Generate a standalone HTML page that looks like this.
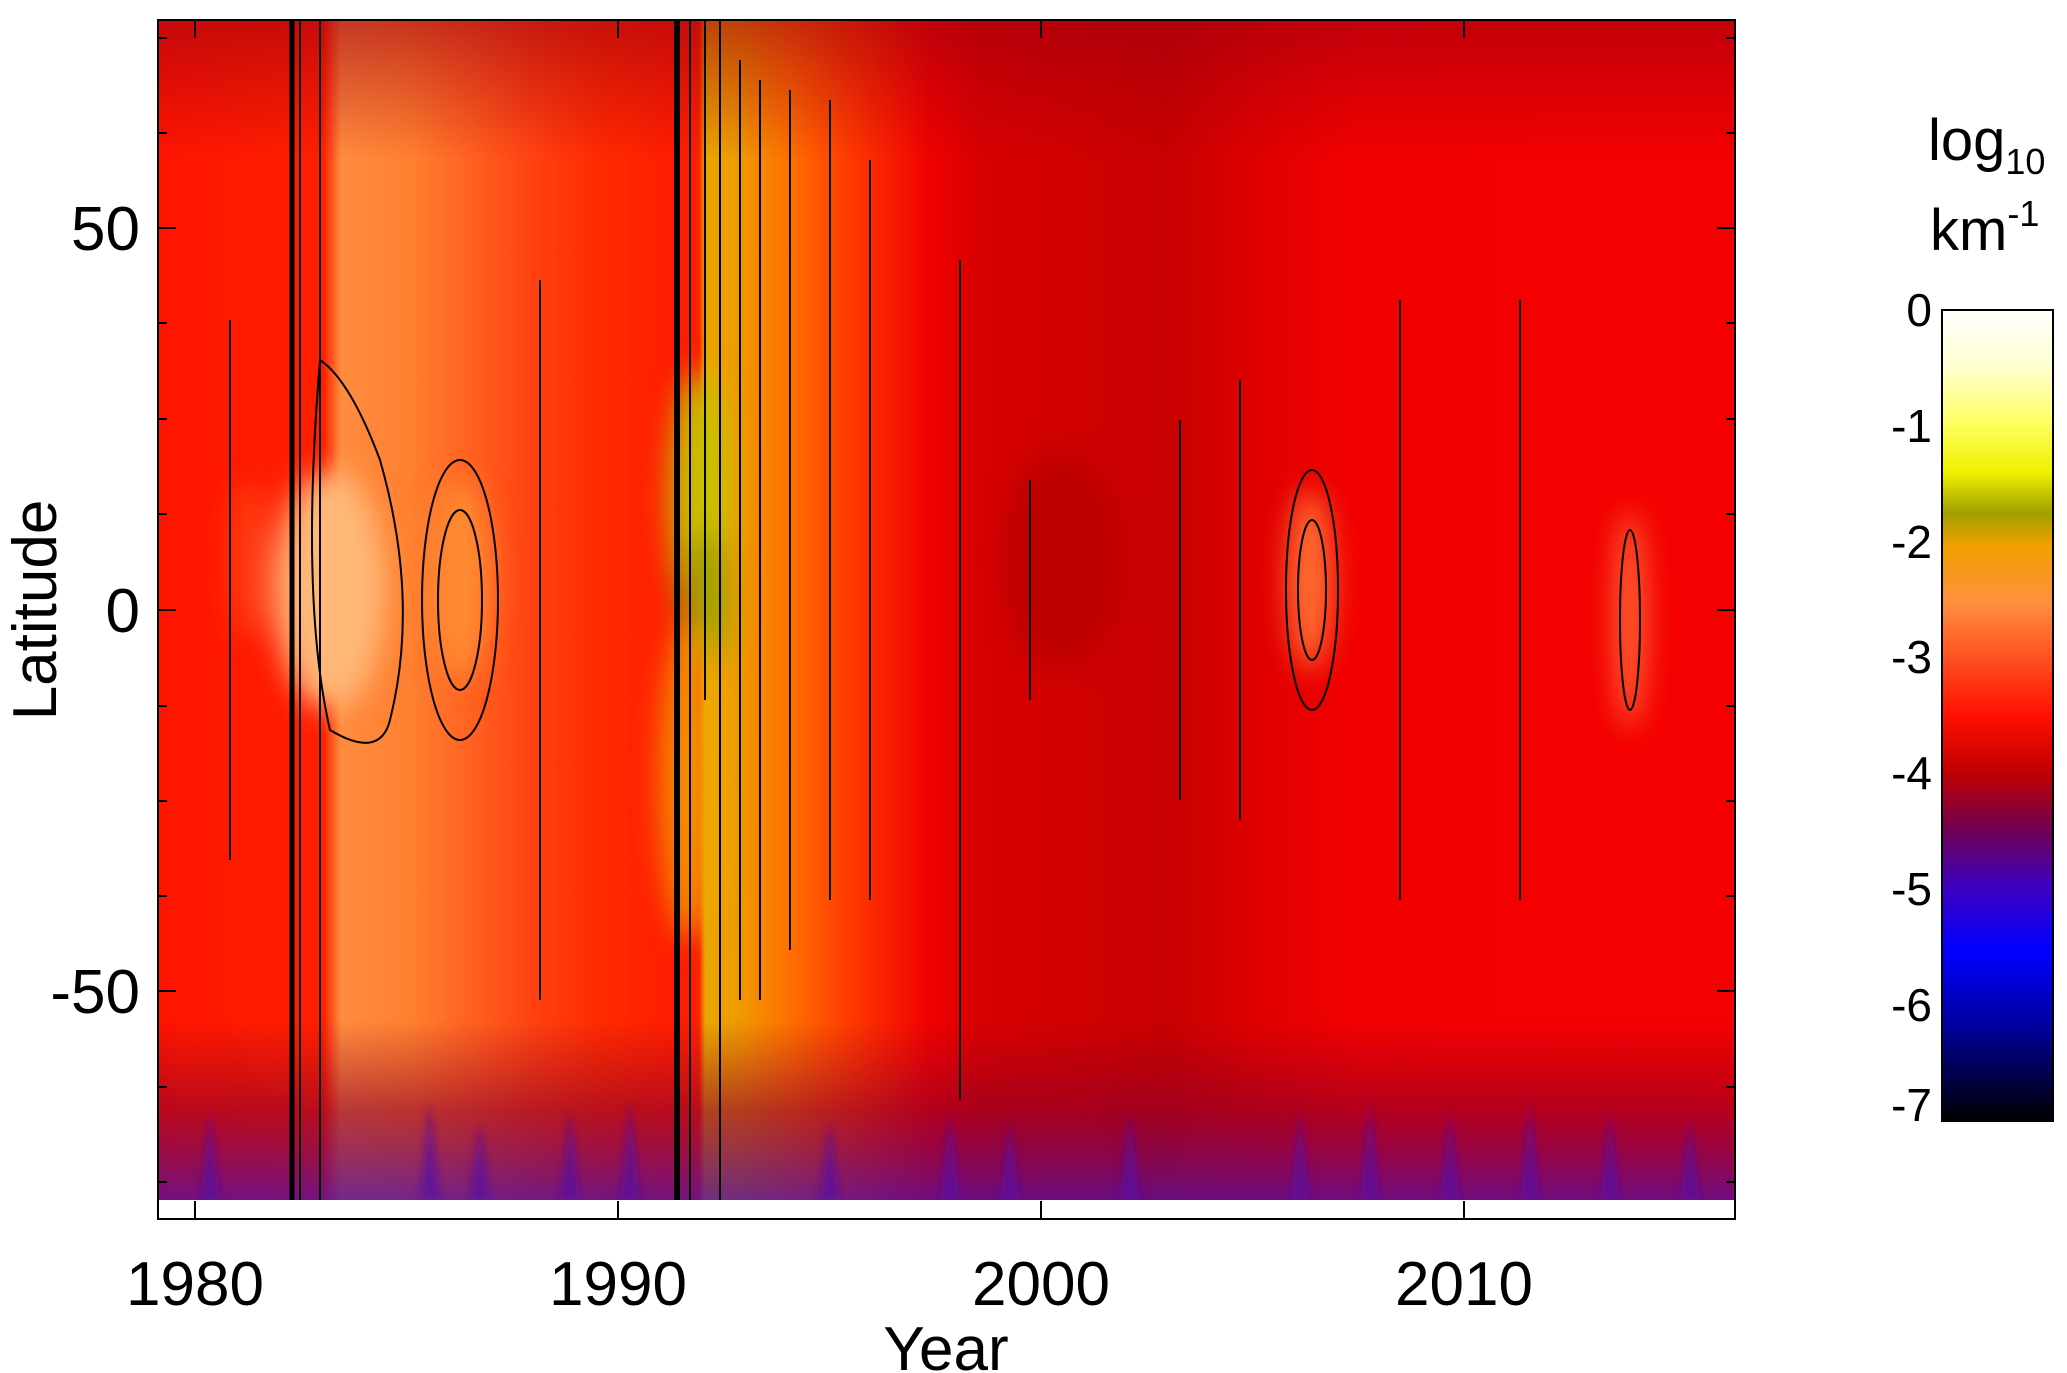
<!DOCTYPE html>
<html><head><meta charset="utf-8"><style>
html,body{margin:0;padding:0;background:#fff;width:2067px;height:1373px;overflow:hidden}
svg{display:block;font-family:"Liberation Sans",Arial,sans-serif}
</style></head><body>
<svg width="2067" height="1373" viewBox="0 0 2067 1373">
<defs>
<linearGradient id="base" x1="158" y1="0" x2="1735" y2="0" gradientUnits="userSpaceOnUse">
<stop offset="0" stop-color="#ff1400"/>
<stop offset="0.105" stop-color="#ff2000"/>
<stop offset="0.116" stop-color="#ff8c40"/>
<stop offset="0.16" stop-color="#ff8030"/>
<stop offset="0.2" stop-color="#ff6020"/>
<stop offset="0.24" stop-color="#ff4010"/>
<stop offset="0.28" stop-color="#ff2a00"/>
<stop offset="0.33" stop-color="#ff1c00"/>
<stop offset="0.343" stop-color="#ff2000"/>
<stop offset="0.347" stop-color="#e8a800"/>
<stop offset="0.37" stop-color="#f09800"/>
<stop offset="0.40" stop-color="#ff7000"/>
<stop offset="0.44" stop-color="#ff3800"/>
<stop offset="0.49" stop-color="#f00000"/>
<stop offset="0.52" stop-color="#d80000"/>
<stop offset="0.64" stop-color="#c80000"/>
<stop offset="0.70" stop-color="#e00000"/>
<stop offset="0.76" stop-color="#f20000"/>
<stop offset="1" stop-color="#f40000"/>
</linearGradient>
<linearGradient id="topd" x1="0" y1="20" x2="0" y2="160" gradientUnits="userSpaceOnUse">
<stop offset="0" stop-color="#a00010" stop-opacity="0.6"/><stop offset="1" stop-color="#a00010" stop-opacity="0"/>
</linearGradient>
<linearGradient id="botd" x1="0" y1="1020" x2="0" y2="1200" gradientUnits="userSpaceOnUse">
<stop offset="0" stop-color="#900020" stop-opacity="0"/><stop offset="0.5" stop-color="#8a0030" stop-opacity="0.6"/><stop offset="1" stop-color="#5010a0" stop-opacity="0.8"/>
</linearGradient>
<linearGradient id="cb" x1="0" y1="310" x2="0" y2="1121" gradientUnits="userSpaceOnUse">
<stop offset="0" stop-color="#ffffff"/>
<stop offset="0.07" stop-color="#ffffd0"/>
<stop offset="0.14" stop-color="#ffff60"/>
<stop offset="0.2" stop-color="#f0f000"/>
<stop offset="0.25" stop-color="#a0a000"/>
<stop offset="0.29" stop-color="#f0a000"/>
<stop offset="0.36" stop-color="#ff9040"/>
<stop offset="0.43" stop-color="#ff5020"/>
<stop offset="0.5" stop-color="#ff1000"/>
<stop offset="0.57" stop-color="#c00000"/>
<stop offset="0.64" stop-color="#700050"/>
<stop offset="0.71" stop-color="#4000c0"/>
<stop offset="0.79" stop-color="#0000ff"/>
<stop offset="0.88" stop-color="#0000a0"/>
<stop offset="1" stop-color="#000000"/>
</linearGradient>
<filter id="bl" x="-50%" y="-50%" width="200%" height="200%"><feGaussianBlur stdDeviation="14"/></filter>
<filter id="bl2"><feGaussianBlur stdDeviation="4"/></filter>
<clipPath id="pc"><rect x="158" y="20" width="1577" height="1180"/></clipPath>
</defs>
<g clip-path="url(#pc)">
<rect x="158" y="20" width="1577" height="1180" fill="url(#base)"/>
<rect x="158" y="20" width="1577" height="160" fill="url(#topd)"/>
<rect x="158" y="1020" width="1577" height="180" fill="url(#botd)"/>
<g filter="url(#bl)">
<ellipse cx="330" cy="590" rx="55" ry="120" fill="#ffb878"/>
<ellipse cx="460" cy="580" rx="30" ry="100" fill="#ff8a30"/>
<ellipse cx="700" cy="500" rx="30" ry="130" fill="#c8c000"/>
<ellipse cx="705" cy="600" rx="24" ry="70" fill="#a0a000"/>
<ellipse cx="690" cy="780" rx="30" ry="160" fill="#f0a800" opacity="0.8"/>
<ellipse cx="1310" cy="580" rx="22" ry="90" fill="#ff7030"/>
<ellipse cx="1630" cy="620" rx="16" ry="110" fill="#ff6030"/>
<ellipse cx="1060" cy="560" rx="60" ry="110" fill="#b00000" opacity="0.6"/>
<ellipse cx="250" cy="560" rx="18" ry="80" fill="#ff5020" opacity="0.7"/>
</g>
<g filter="url(#bl2)" fill="#5a10a0" opacity="0.7">
<path d="M200 1200 L210 1110 L220 1200Z M420 1200 L430 1100 L440 1200Z M470 1200 L480 1120 L490 1200Z M560 1200 L570 1110 L580 1200Z M620 1200 L630 1100 L640 1200Z M820 1200 L830 1120 L840 1200Z M940 1200 L950 1110 L960 1200Z M1000 1200 L1010 1120 L1020 1200Z M1120 1200 L1130 1110 L1140 1200Z M1290 1200 L1300 1110 L1310 1200Z M1360 1200 L1370 1100 L1380 1200Z M1440 1200 L1450 1110 L1460 1200Z M1520 1200 L1530 1100 L1540 1200Z M1600 1200 L1610 1110 L1620 1200Z M1680 1200 L1690 1120 L1700 1200Z"/>
</g>
<g stroke="#000" fill="none" stroke-width="2">
<line x1="292" y1="20" x2="292" y2="1200" stroke-width="5"/>
<line x1="677" y1="20" x2="677" y2="1200" stroke-width="6"/>
<path d="M300 20 V1200 M320 20 V1200 M690 20 V1200 M705 20 V700 M720 20 V1200 M740 60 V1000 M760 80 V1000 M790 90 V950 M830 100 V900 M870 160 V900"/>
<path d="M320 360 Q300 600 330 730 Q380 760 390 720 Q420 600 380 460 Q350 380 320 360Z"/>
<ellipse cx="460" cy="600" rx="22" ry="90"/>
<ellipse cx="460" cy="600" rx="38" ry="140"/>
<ellipse cx="1312" cy="590" rx="14" ry="70"/>
<ellipse cx="1312" cy="590" rx="26" ry="120"/>
<ellipse cx="1630" cy="620" rx="10" ry="90"/>
<path d="M230 320 V860 M540 280 V1000 M960 260 V1100 M1030 480 V700 M1180 420 V800 M1240 380 V820 M1400 300 V900 M1520 300 V900"/>
</g>
</g>
<rect x="158" y="20" width="1577" height="1199" fill="none" stroke="#000" stroke-width="2"/>
<g stroke="#000" stroke-width="2">
<path d="M158 228h18M158 610h18M158 991h18M1735 228h-18M1735 610h-18M1735 991h-18"/>
<path d="M195 1219v-18M618 1219v-18M1041 1219v-18M1464 1219v-18M195 20v18M618 20v18M1041 20v18M1464 20v18"/>
<path d="M158 38h9M158 133h9M158 323h9M158 419h9M158 514h9M158 706h9M158 801h9M158 896h9M158 1087h9M158 1182h9M1735 38h-9M1735 133h-9M1735 323h-9M1735 419h-9M1735 514h-9M1735 706h-9M1735 801h-9M1735 896h-9M1735 1087h-9M1735 1182h-9"/>
</g>
<g font-size="62" fill="#000">
<text x="140" y="250" text-anchor="end">50</text>
<text x="140" y="632" text-anchor="end">0</text>
<text x="140" y="1013" text-anchor="end">-50</text>
<text x="195" y="1305" text-anchor="middle">1980</text>
<text x="618" y="1305" text-anchor="middle">1990</text>
<text x="1041" y="1305" text-anchor="middle">2000</text>
<text x="1464" y="1305" text-anchor="middle">2010</text>
<text x="946" y="1370" text-anchor="middle">Year</text>
<text transform="translate(56,610) rotate(-90)" text-anchor="middle">Latitude</text>
</g>
<rect x="1942" y="310" width="111" height="811" fill="url(#cb)" stroke="#000" stroke-width="2"/>
<g font-size="46" fill="#000" text-anchor="end">
<text x="1932" y="326">0</text>
<text x="1932" y="442">-1</text>
<text x="1932" y="558">-2</text>
<text x="1932" y="673">-3</text>
<text x="1932" y="789">-4</text>
<text x="1932" y="905">-5</text>
<text x="1932" y="1021">-6</text>
<text x="1932" y="1121">-7</text>
</g>
<text x="1928" y="160" font-size="58">log<tspan font-size="36" dy="14">10</tspan></text>
<text x="1930" y="250" font-size="58">km<tspan font-size="36" dy="-24">-1</tspan></text>
</svg>
</body></html>
